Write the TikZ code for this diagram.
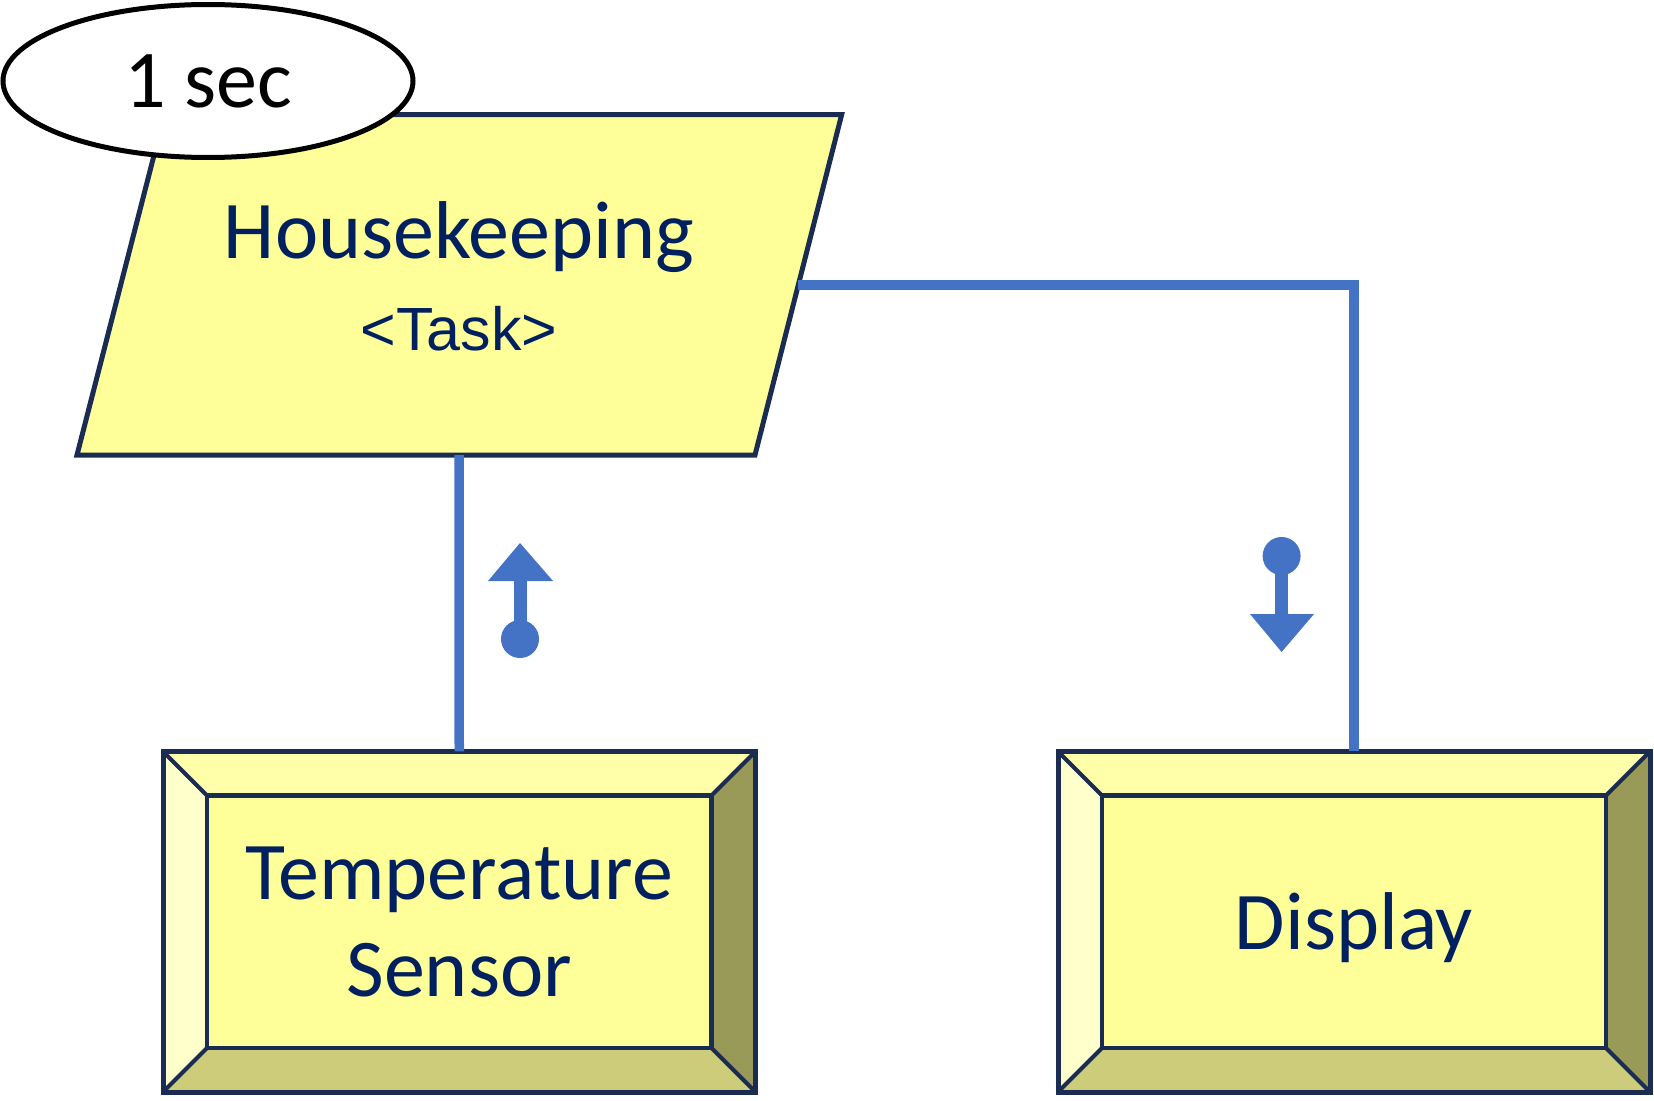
\documentclass[tikz,border=0pt]{standalone}
\usepackage{fontspec}
\setmainfont{Carlito}
\newfontfamily\arialfont{Liberation Sans}
\usetikzlibrary{shapes.geometric}
\definecolor{navy}{HTML}{1B2C52}
\definecolor{txt}{HTML}{002060}
\definecolor{flow}{HTML}{4472C4}
\definecolor{ylw}{HTML}{FFFF99}
\definecolor{ytop}{HTML}{FFFFAA}
\definecolor{yleft}{HTML}{FFFFCC}
\definecolor{yright}{HTML}{999958}
\definecolor{ybot}{HTML}{CCCC7A}
\newcommand\bevelbox[5]{%
  \fill[yleft] (#1,#2) -- (#1+#5,#2+#5) -- (#1+#5,#4-#5) -- (#1,#4) -- cycle;
  \fill[ytop] (#1,#2) -- (#3,#2) -- (#3-#5,#2+#5) -- (#1+#5,#2+#5) -- cycle;
  \fill[yright] (#3,#2) -- (#3,#4) -- (#3-#5,#4-#5) -- (#3-#5,#2+#5) -- cycle;
  \fill[ybot] (#1,#4) -- (#3,#4) -- (#3-#5,#4-#5) -- (#1+#5,#4-#5) -- cycle;
  \fill[ylw] (#1+#5,#2+#5) rectangle (#3-#5,#4-#5);
  \draw[navy,line width=4pt] (#1,#2) -- (#1+#5,#2+#5) (#3,#2) -- (#3-#5,#2+#5)
     (#1,#4) -- (#1+#5,#4-#5) (#3,#4) -- (#3-#5,#4-#5);
  \draw[navy,line width=4.5pt] (#1+#5,#2+#5) rectangle (#3-#5,#4-#5);
  \draw[navy,line width=5pt] (#1,#2) rectangle (#3,#4);
}
\tikzset{
  flowline/.style={flow,line width=9.5pt},
  bigtext/.style={text=txt,font=\fontsize{82}{97}\selectfont,inner sep=0pt},
  marker/.style={fill=flow,draw=none},
}
\begin{document}
\begin{tikzpicture}[x=1pt,y=-1pt]
\useasboundingbox (0,0) rectangle (1654,1100);
% task parallelogram
\draw[navy,line width=5pt,fill=ylw] (164.5,114.5) -- (841.7,114.5) -- (755,455) -- (77,455) -- cycle;
\node[bigtext,anchor=base] (house) at (459,258) {Housekeeping};
\node[text=txt,font=\arialfont\fontsize{61}{70}\selectfont,inner sep=0pt,anchor=base] (tasklbl) at (459,350) {<Task>};
\coordinate (taskS) at (459,455);
\coordinate (taskE) at (798.4,285);
% period ellipse
\node[ellipse,draw=black,line width=5pt,fill=white,minimum width=410pt,minimum height=153pt,
      inner sep=0pt,font=\fontsize{82}{97}\selectfont] (period) at (208,81) {1 sec};
% boxes
\bevelbox{163}{751.5}{755.5}{1092}{44}
\node[minimum width=592.5pt,minimum height=340.5pt,inner sep=0pt] (sensor) at (459.25,921.75) {};
\node[bigtext,align=center] (sensortxt) at (459.25,922) {Temperature\\Sensor};
\bevelbox{1058}{751.5}{1650}{1092}{44}
\node[minimum width=592pt,minimum height=340.5pt,inner sep=0pt] (display) at (1354,921.75) {};
\node[bigtext,anchor=base] (displaytxt) at (1354,949) {Display};
% connectors
\draw[flowline] (taskS) -- (sensor.north);
\draw[flowline] (taskE) -- (taskE -| display.north) -- (display.north);
% data flow markers
\fill[marker] (520,639) circle (19);
\fill[marker] (513.5,639) rectangle (526.5,580);
\fill[marker] (488,581) -- (553,581) -- (520,543) -- cycle;
\fill[marker] (1281.6,556) circle (19);
\fill[marker] (1275.1,556) rectangle (1288.1,615);
\fill[marker] (1250,614) -- (1314,614) -- (1281.6,652) -- cycle;
\end{tikzpicture}
\end{document}
